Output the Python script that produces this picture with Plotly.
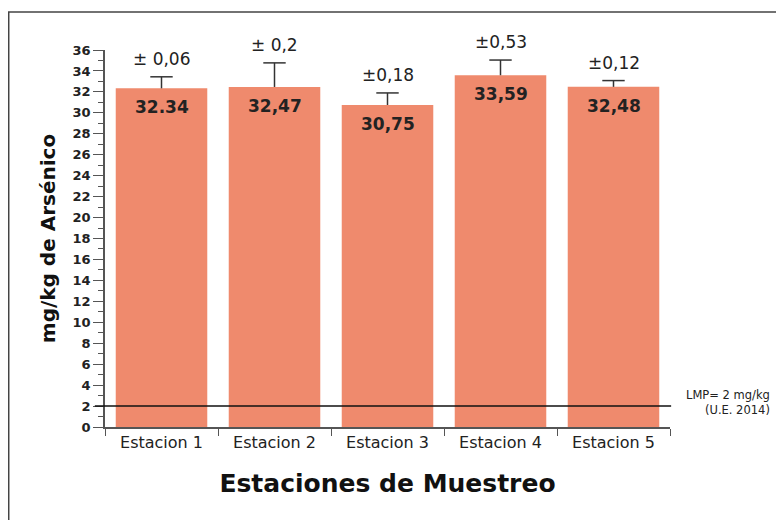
import plotly.graph_objects as go

categories = ["Estacion 1", "Estacion 2", "Estacion 3", "Estacion 4", "Estacion 5"]
values = [32.34, 32.47, 30.75, 33.59, 32.48]
value_labels = ["32.34", "32,47", "30,75", "33,59", "32,48"]
error_upper = [1.1, 2.3, 1.15, 1.45, 0.6]
error_labels = ["± 0,06", "± 0,2", "±0,18", "±0,53", "±0,12"]
limit_value = 2
limit_label = "LMP= 2 mg/kg<br>(U.E. 2014)"

FONT = "DejaVu Sans"
TXT = "#222222"
BAR = "#EF8A6D"
ERR = "#333333"

fig = go.Figure()
fig.add_trace(go.Bar(
    x=categories, y=values,
    marker=dict(color=BAR, line=dict(width=0)),
))

# upper-only error bars: stems from bar top + caps
stem_x, stem_y = [], []
for c, v, e in zip(categories, values, error_upper):
    stem_x += [c, c, None]
    stem_y += [v, v + e, None]
fig.add_trace(go.Scatter(x=stem_x, y=stem_y, mode="lines",
                         line=dict(color=ERR, width=1.5), hoverinfo="skip"))
fig.add_trace(go.Scatter(
    x=categories, y=[v + e for v, e in zip(values, error_upper)], mode="markers",
    marker=dict(symbol="line-ew-open", size=16, color=ERR,
                line=dict(color=ERR, width=1.5)),
    hoverinfo="skip"))

for c, v, e, lab, vl in zip(categories, values, error_upper, error_labels, value_labels):
    fig.add_annotation(x=c, y=v + e, text=lab, showarrow=False,
                       yanchor="bottom", yshift=6,
                       font=dict(family=FONT, size=17, color=TXT))
    fig.add_annotation(x=c, y=v, text=vl, showarrow=False,
                       yanchor="middle", yshift=-19,
                       font=dict(family=FONT, size=17, color=TXT, weight="bold"))

fig.add_shape(type="line", xref="paper", yref="y", x0=-0.018, x1=1.002,
              y0=limit_value, y1=limit_value, line=dict(color="#111111", width=1.5))

fig.add_annotation(xref="paper", yref="y", x=1.1805, y=limit_value + 0.3,
                   text=limit_label, showarrow=False, xanchor="right",
                   yanchor="middle", align="right",
                   font=dict(family=FONT, size=11.5, color=TXT))

# outer frame
fig.add_shape(type="rect", xref="paper", yref="paper",
              x0=-0.1704, x1=1.3, y0=-0.4, y1=1.1008,
              line=dict(color="#444444", width=1.5), fillcolor="rgba(0,0,0,0)")

fig.update_layout(
    width=776, height=512,
    margin=dict(l=97, r=114, t=42, b=93),
    paper_bgcolor="white", plot_bgcolor="white",
    bargap=0.19, showlegend=False,
    font=dict(family=FONT, color=TXT),
    xaxis=dict(
        type="category", tickson="boundaries", ticks="outside", ticklen=7,
        tickcolor="#555555", tickwidth=1.2,
        showline=True, linecolor="#555555", linewidth=1.5,
        tickfont=dict(family=FONT, size=16, color=TXT),
        title=dict(text="Estaciones de Muestreo",
                   font=dict(family=FONT, size=25, color="#111111", weight="bold"),
                   standoff=24),
        showgrid=False,
    ),
    yaxis=dict(
        range=[0, 36], dtick=2, tick0=0, ticks="outside", ticklen=10,
        tickcolor="#555555", tickwidth=1.2,
        showline=True, linecolor="#555555", linewidth=1.5,
        tickfont=dict(family=FONT, size=13, color=TXT, weight="bold"),
        minor=dict(dtick=1, ticks="outside", ticklen=5, tickcolor="#555555", tickwidth=1),
        title=dict(text="mg/kg de Arsénico",
                   font=dict(family=FONT, size=20, color="#111111", weight="bold"),
                   standoff=12),
        showgrid=False, zeroline=False,
    ),
)

fig.write_html("out.html")
